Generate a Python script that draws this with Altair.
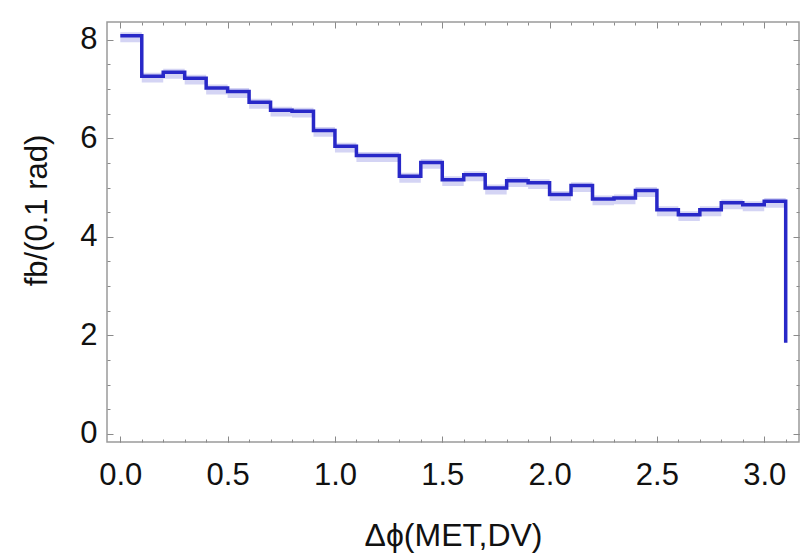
import altair as alt
import pandas as pd

# bin left edges of delta-phi (rad) and the step heights
phi_left = [0.0, 0.1, 0.2, 0.3, 0.4, 0.5, 0.6, 0.7, 0.8, 0.9,
            1.0, 1.1, 1.2, 1.3, 1.4, 1.5, 1.6, 1.7, 1.8, 1.9,
            2.0, 2.1, 2.2, 2.3, 2.4, 2.5, 2.6, 2.7, 2.8, 2.9, 3.0]
fb_per_bin = [8.08, 7.26, 7.34, 7.22, 7.02, 6.95, 6.73, 6.57, 6.55, 6.16,
              5.84, 5.65, 5.65, 5.23, 5.51, 5.16, 5.26, 4.99, 5.14, 5.10,
              4.86, 5.04, 4.77, 4.79, 4.94, 4.55, 4.45, 4.55, 4.69, 4.65, 4.72]
phi_end = 3.1
fb_end = 1.85

x_major = [0.0, 0.5, 1.0, 1.5, 2.0, 2.5, 3.0]
x_minor = [0.0, 0.1, 0.2, 0.3, 0.4, 0.5, 0.6, 0.7, 0.8, 0.9, 1.0, 1.1, 1.2, 1.3, 1.4, 1.5,
           1.6, 1.7, 1.8, 1.9, 2.0, 2.1, 2.2, 2.3, 2.4, 2.5, 2.6, 2.7, 2.8, 2.9, 3.0, 3.1]
y_major = [0, 2, 4, 6, 8]
y_minor = [0, 0.5, 1, 1.5, 2, 2.5, 3, 3.5, 4, 4.5, 5, 5.5, 6, 6.5, 7, 7.5, 8]

line_df = pd.DataFrame({"phi": phi_left + [phi_end], "fb": fb_per_bin + [fb_end]})
band_df = pd.DataFrame({"phi": phi_left + [phi_end], "fb": fb_per_bin + [fb_per_bin[-1]]})
band_df["lo"] = band_df["fb"] - 0.13
band_df["hi"] = band_df["fb"] + 0.07

FONT = "Liberation Sans"
TICK = "#8a8a8a"
xs = alt.Scale(domain=[-0.062, 3.162], nice=False, zero=False)
ys = alt.Scale(domain=[-0.164, 8.36], nice=False, zero=False)


def tick_axis(orient, values, size):
    return alt.Axis(orient=orient, values=values, labels=False, title=None, domain=False,
                    grid=False, ticks=True, tickSize=alt.ExprRef(expr=str(-size)),
                    tickColor=TICK, tickWidth=1)


band = alt.Chart(band_df).mark_area(interpolate="step-after", color="#cdcdf2", opacity=0.85).encode(
    x=alt.X("phi:Q", scale=xs,
            axis=alt.Axis(orient="bottom", values=x_major, format=".1f", domain=False, grid=False,
                          tickSize=alt.ExprRef(expr="-6"), tickColor=TICK,
                          labelFont=FONT, labelFontSize=31, labelColor="#111111", labelPadding=24,
                          title="Δϕ(MET,DV)", titleFont=FONT, titleFontSize=32,
                          titleFontWeight="normal", titleColor="#111111", titlePadding=30)),
    y=alt.Y("lo:Q", scale=ys,
            axis=alt.Axis(orient="left", values=y_major, format="d", domain=False, grid=False,
                          tickSize=alt.ExprRef(expr="-6"), tickColor=TICK,
                          labelFont=FONT, labelFontSize=31, labelColor="#111111", labelPadding=16,
                          title="fb/(0.1 rad)", titleFont=FONT, titleFontSize=31,
                          titleFontWeight="normal", titleColor="#111111", titlePadding=26,
                          titleY=188)),
    y2="hi:Q",
)

line = alt.Chart(line_df).mark_line(interpolate="step-after", color="#2828c8", strokeWidth=3.5).encode(
    x=alt.X("phi:Q", scale=xs, axis=tick_axis("bottom", x_minor, 3)),
    y=alt.Y("fb:Q", scale=ys, axis=tick_axis("left", y_minor, 3)),
)

ghost_major = alt.Chart(line_df).mark_line(opacity=0).encode(
    x=alt.X("phi:Q", scale=xs, axis=tick_axis("top", x_major, 6)),
    y=alt.Y("fb:Q", scale=ys, axis=tick_axis("right", y_major, 6)),
)

ghost_minor = alt.Chart(line_df).mark_line(opacity=0).encode(
    x=alt.X("phi:Q", scale=xs, axis=tick_axis("top", x_minor, 3)),
    y=alt.Y("fb:Q", scale=ys, axis=tick_axis("right", y_minor, 3)),
)

chart = alt.layer(band, line, ghost_major, ghost_minor).resolve_axis(
    x="independent", y="independent"
).properties(
    width=692, height=420,
    autosize=alt.AutoSizeParams(type="none"),
    padding={"left": 107, "top": 22, "right": 10, "bottom": 118},
    background="white",
).configure_view(stroke="#9a9a9a", strokeWidth=1.5)

chart.save("out.html", embed_options={"renderer": "svg", "actions": False})
